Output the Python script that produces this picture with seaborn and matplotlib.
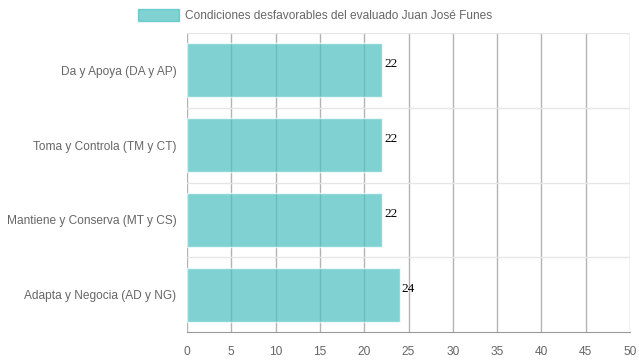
import matplotlib
matplotlib.use('Agg')
import matplotlib.pyplot as plt
import seaborn as sns
import pandas as pd
from matplotlib.patches import Patch

categorias = ['Da y Apoya (DA y AP)', 'Toma y Controla (TM y CT)',
              'Mantiene y Conserva (MT y CS)', 'Adapta y Negocia (AD y NG)']
valores = [22, 22, 22, 24]
serie = 'Condiciones desfavorables del evaluado Juan José Funes'
xticks = list(range(0, 55, 5))

sns.set_style('white')
plt.rcParams['font.family'] = ['Liberation Sans', 'DejaVu Sans']
fs = 8.6

df = pd.DataFrame({'cat': categorias, 'val': valores})

fig = plt.figure(figsize=(6.39, 3.6), dpi=100)
ax = fig.add_axes([187 / 639, 1 - 332 / 360, (630 - 187) / 639, (332 - 33) / 360])

color = (75 / 255, 192 / 255, 192 / 255)
sns.barplot(data=df, x='val', y='cat', orient='h', color=color, alpha=0.7,
            width=0.72, saturation=1, ax=ax, zorder=3)

ax.set_xlim(0, 50)
ax.set_ylim(3.5, -0.5)
ax.set_xticks(xticks)
ax.set_xlabel('')
ax.set_ylabel('')

# grid: vertical lines darker, horizontal lines at category boundaries
for x in xticks:
    ax.axvline(x, color='#b3b3b3', lw=1, zorder=1)
for y in [-0.5, 0.5, 1.5, 2.5]:
    ax.axhline(y, color='#e6e6e6', lw=1, zorder=1)
ax.set_yticks([-0.5, 0.5, 1.5, 2.5, 3.5], minor=True)
ax.tick_params(axis='y', which='minor', length=10, color='#e6e6e6', width=1)
ax.tick_params(axis='y', which='major', length=0, pad=7.5, labelsize=fs, labelcolor='#666666')
ax.tick_params(axis='x', length=8, color='#b3b3b3', width=1, pad=2,
               labelsize=fs, labelcolor='#666666')

for s in ['top', 'right', 'left']:
    ax.spines[s].set_visible(False)
ax.spines['bottom'].set_color('#999999')
ax.spines['bottom'].set_zorder(4)

for i, v in enumerate(valores):
    ax.text(v + 0.25, i - 0.08, str(v), va='center', ha='left', fontsize=9.5,
            family='Liberation Serif', color='black', zorder=5)

handle = Patch(facecolor=color, alpha=0.7, edgecolor=color, lw=1)
fig.legend([handle], [serie], loc='upper center', bbox_to_anchor=(0.493, 1.005),
           frameon=False, fontsize=fs, handlelength=3.5, handleheight=1.15,
           handletextpad=0.5, labelcolor='#666666')

fig.savefig('out.png', dpi=100)
